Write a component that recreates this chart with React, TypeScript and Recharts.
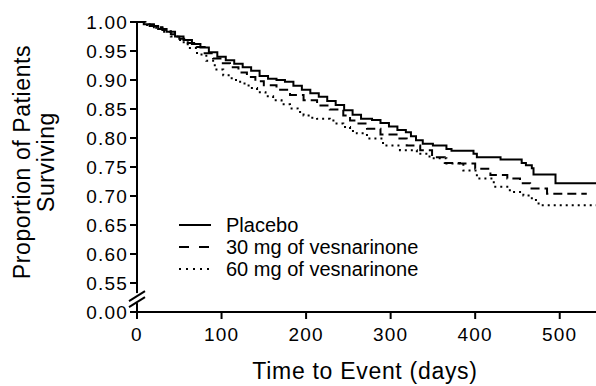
import React from 'react';
import { LineChart, Line, XAxis, YAxis, Label, ReferenceDot } from 'recharts';

// Kaplan-Meier estimates (days, proportion surviving)
const placeboDays = [0, 8, 15, 25, 35, 45, 55, 65, 75, 85, 95, 105, 115, 125, 135, 145, 155, 165, 175, 185, 195, 205, 215, 225, 235, 245, 255, 265, 278, 288, 298, 308, 318, 324, 330, 338, 350, 366, 372, 398, 402, 430, 455, 460, 467, 469, 495, 550];
const placeboSurv = [1.0, 0.996, 0.993, 0.988, 0.983, 0.975, 0.969, 0.962, 0.956, 0.948, 0.94, 0.934, 0.928, 0.922, 0.916, 0.907, 0.902, 0.9, 0.897, 0.89, 0.883, 0.877, 0.871, 0.864, 0.857, 0.848, 0.84, 0.833, 0.831, 0.826, 0.82, 0.814, 0.81, 0.803, 0.796, 0.79, 0.787, 0.781, 0.778, 0.773, 0.767, 0.763, 0.757, 0.753, 0.748, 0.737, 0.722, 0.722];

const mg30Days = [0, 10, 20, 30, 40, 50, 60, 70, 80, 90, 100, 110, 120, 130, 140, 150, 165, 181, 197, 213, 228, 244, 252, 260, 272, 288, 307, 319, 335, 349, 364, 382, 400, 418, 438, 453, 465, 485, 532];
const mg30Surv = [1.0, 0.996, 0.991, 0.986, 0.979, 0.971, 0.964, 0.957, 0.946, 0.937, 0.929, 0.922, 0.913, 0.905, 0.898, 0.891, 0.883, 0.874, 0.865, 0.856, 0.849, 0.839, 0.83, 0.825, 0.816, 0.806, 0.799, 0.787, 0.779, 0.767, 0.757, 0.756, 0.747, 0.736, 0.73, 0.722, 0.713, 0.704, 0.704];

const mg60Days = [0, 10, 20, 30, 40, 51, 60, 71, 82, 92, 102, 112, 122, 132, 142, 152, 161, 171, 181, 190, 197, 205, 213, 228, 236, 244, 252, 260, 272, 291, 311, 331, 346, 366, 386, 402, 422, 441, 457, 467, 475, 550];
const mg60Surv = [1.0, 0.995, 0.99, 0.983, 0.975, 0.965, 0.955, 0.944, 0.933, 0.918, 0.908, 0.9, 0.894, 0.886, 0.879, 0.872, 0.865, 0.858, 0.851, 0.845, 0.839, 0.835, 0.833, 0.83, 0.825, 0.819, 0.812, 0.808, 0.799, 0.787, 0.779, 0.773, 0.765, 0.756, 0.744, 0.73, 0.716, 0.707, 0.701, 0.693, 0.684, 0.684];

const xTicks = [0, 100, 200, 300, 400, 500];
// 0.50 on the scale stands for the 0.00 tick below the axis break
const yTicks = [0.5, 0.55, 0.6, 0.65, 0.7, 0.75, 0.8, 0.85, 0.9, 0.95, 1.0];

const toRows = (days, surv) => days.map((d, i) => ({ day: d, surv: surv[i] }));

const series = [
  { name: 'Placebo', data: toRows(placeboDays, placeboSurv), dash: undefined, legendDash: undefined },
  { name: '30 mg of vesnarinone', data: toRows(mg30Days, mg30Surv), dash: '9 5', legendDash: '10 10' },
  { name: '60 mg of vesnarinone', data: toRows(mg60Days, mg60Surv), dash: '2 4', legendDash: '2 5' },
];

const font = '"Liberation Sans", Arial, Helvetica, sans-serif';

const AxisBreak = ({ cx, cy }) => (
  <g>
    <rect x={cx - 3} y={cy - 5} width={6} height={10} fill="#fff" />
    <line x1={cx - 8} y1={cy + 3} x2={cx + 8} y2={cy - 7} stroke="#000" strokeWidth={2} />
    <line x1={cx - 8} y1={cy + 9} x2={cx + 8} y2={cy - 1} stroke="#000" strokeWidth={2} />
  </g>
);

const YTitle = () => {
  const cy = 162;
  return (
    <g fontFamily={font} fontSize={23} letterSpacing={0.6} fill="#000">
      <text x={22} y={cy} textAnchor="middle" dominantBaseline="central" transform={`rotate(-90 22 ${cy})`}>
        Proportion of Patients
      </text>
      <text x={46} y={cy} textAnchor="middle" dominantBaseline="central" transform={`rotate(-90 46 ${cy})`}>
        Surviving
      </text>
    </g>
  );
};

const XTitle = () => (
  <text x={365} y={379} textAnchor="middle" fontFamily={font} fontSize={23} letterSpacing={0.7} fill="#000">
    Time to Event (days)
  </text>
);

export default function App() {
  const tickStyle = { fill: '#000', fontSize: 19, fontFamily: font, letterSpacing: 1.2 };
  return (
    <div style={{ position: 'absolute', left: 0, top: 0, width: 596, height: 386, overflow: 'hidden', background: '#fff' }}>
      <LineChart width={602} height={386} margin={{ top: 22, right: 0, bottom: 0, left: 0 }}>
        <XAxis
          type="number"
          dataKey="day"
          domain={[0, 550]}
          ticks={xTicks}
          interval={0}
          allowDataOverflow
          height={74}
          tickSize={7}
          tickMargin={9}
          tick={tickStyle}
          axisLine={{ stroke: '#000', strokeWidth: 2 }}
          tickLine={{ stroke: '#000', strokeWidth: 2 }}
        >
          <Label content={XTitle} />
        </XAxis>
        <YAxis
          type="number"
          domain={[0.5, 1]}
          ticks={yTicks}
          interval={0}
          width={137}
          tickSize={7}
          tickMargin={2}
          tick={tickStyle}
          tickFormatter={v => (v === 0.5 ? '0.00' : v.toFixed(2))}
          axisLine={{ stroke: '#000', strokeWidth: 2 }}
          tickLine={{ stroke: '#000', strokeWidth: 2 }}
        >
          <Label content={YTitle} />
        </YAxis>
        {series.map(s => (
          <Line
            key={s.name}
            name={s.name}
            data={s.data}
            dataKey="surv"
            type="stepAfter"
            stroke="#000"
            strokeWidth={2}
            strokeDasharray={s.dash}
            dot={false}
            isAnimationActive={false}
          />
        ))}
        <ReferenceDot x={0} y={0.524} r={0} ifOverflow="visible" shape={AxisBreak} />
      </LineChart>
      <div style={{ position: 'absolute', left: 178, top: 214, fontFamily: font, fontSize: 20, color: '#000', lineHeight: '22px' }}>
        {series.map(s => (
          <div key={s.name} style={{ display: 'flex', alignItems: 'center', height: 22 }}>
            <svg width={34} height={10} style={{ marginRight: 14 }}>
              <line x1={1} y1={5} x2={33} y2={5} stroke="#000" strokeWidth={2} strokeDasharray={s.legendDash} />
            </svg>
            <span>{s.name}</span>
          </div>
        ))}
      </div>
    </div>
  );
}
